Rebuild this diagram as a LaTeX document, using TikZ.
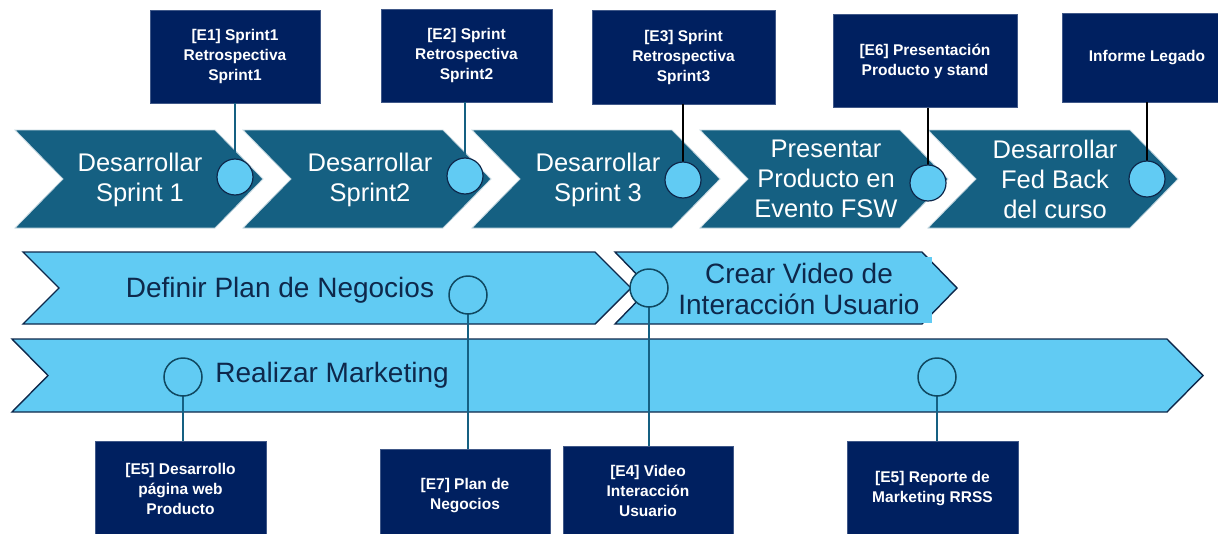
\documentclass[tikz,border=0pt]{standalone}
\usepackage{fontspec}
\setmainfont{Liberation Sans}
\definecolor{navy}{RGB}{0,32,96}
\definecolor{accteal}{RGB}{21,96,130}
\definecolor{lblue}{RGB}{97,203,243}
\definecolor{dnavy}{RGB}{14,40,75}
\newcommand\drawchev[6]{\path[#1] (#2,#4) -- (#3,#4) -- ({#3+#6},{(#4+#5)/2}) -- (#3,#5) -- (#2,#5) -- ({#2+#6},{(#4+#5)/2}) -- cycle;}
\tikzset{
  chevA/.style={fill=accteal, draw=white!75!accteal, line width=0.8pt},
  chevB/.style={fill=lblue, draw=dnavy, line width=1.4pt},
  box/.style={fill=navy, draw=navy!75!white, line width=0.6pt, text=white,
    font=\bfseries\fontsize{15.5}{20}\selectfont, align=center, inner sep=0pt},
  circA/.style={circle, minimum size=36pt, inner sep=0pt, fill=lblue, draw=dnavy, line width=1.2pt},
  circB/.style={circle, minimum size=38pt, inner sep=0pt, fill=lblue, draw=accteal!75!black, line width=1.5pt},
  lineT/.style={draw=accteal, line width=2pt},
  lineK/.style={draw=black, line width=2.5pt},
  tA/.style={text=white, align=center, inner sep=0pt, font=\fontsize{25.5}{30}\selectfont},
  tB/.style={text=dnavy, align=center, inner sep=0pt, font=\fontsize{28}{31}\selectfont},
}
\begin{document}
\begin{tikzpicture}[x=1pt,y=-1pt]
\useasboundingbox (0,0) rectangle (1218,533);
% top row chevrons
\drawchev{chevA}{15}{215}{130}{228}{48}
\drawchev{chevA}{243}{443}{130}{228}{48}
\drawchev{chevA}{472}{672}{130}{228}{48}
\drawchev{chevA}{700}{900}{130}{228}{48}
\drawchev{chevA}{928}{1130}{130}{228}{48}
% second and third row chevrons
\drawchev{chevB}{23}{595}{252}{324}{36}
\drawchev{chevB}{615}{922}{252}{324}{35}
\fill[lblue] (922,257) rectangle (932,323);
\drawchev{chevB}{12}{1167}{339}{412}{36}
% chevron texts
\node[tA] (t1) at (140,180) {Desarrollar\\Sprint 1};
\node[tA] (t2) at (370,180) {Desarrollar\\Sprint2};
\node[tA] (t3) at (598,180) {Desarrollar\\Sprint 3};
\node[tA] (t4) at (826,179) {Presentar\\Producto en\\Evento FSW};
\node[tA] (t5) at (1055,179) {Desarrollar\\Fed Back\\del curso};
\node[tB] (tb1) at (280,290) {Definir Plan de Negocios};
\node[tB] (tb2) at (799,289) {Crear Video de\\Interacción Usuario};
\node[tB] (tb3) at (332,375) {Realizar Marketing};
% boxes
\node[box, minimum width=170pt, minimum height=93pt] (e1) at (235,56.5) {[E1] Sprint1\\Retrospectiva\\Sprint1};
\node[box, minimum width=171pt, minimum height=93pt] (e2) at (466.5,55.5) {[E2] Sprint\\Retrospectiva\\Sprint2};
\node[box, minimum width=183pt, minimum height=94pt] (e3) at (683.5,57) {[E3] Sprint\\Retrospectiva\\Sprint3};
\node[box, minimum width=184pt, minimum height=93pt] (e6) at (925,61) {[E6] Presentación\\Producto y stand};
\node[box, minimum width=170pt, minimum height=89pt] (inf) at (1147,57.5) {Informe Legado};
\node[box, minimum width=171pt, minimum height=96pt] (b1) at (180.5,489) {[E5] Desarrollo\\página web\\Producto};
\node[box, minimum width=170pt, minimum height=94pt] (b2) at (465,496) {[E7] Plan de\\Negocios};
\node[box, minimum width=170pt, minimum height=90pt] (b3) at (648,491) {[E4] Video\\Interacción\\Usuario};
\node[box, minimum width=171pt, minimum height=96pt] (b4) at (932.5,489) {[E5] Reporte de\\Marketing RRSS};
% circle positions
\coordinate (pc1) at (235,177);
\coordinate (pc2) at (465,176);
\coordinate (pc3) at (683,180);
\coordinate (pc4) at (928,183);
\coordinate (pc5) at (1147,179);
\coordinate (pd1) at (468,295);
\coordinate (pd2) at (649,288);
\coordinate (pm1) at (183,377);
\coordinate (pm2) at (937,377);
% connectors
\draw[lineT] (pc1 |- e1.south) -- (pc1);
\draw[lineT] (pc2 |- e2.south) -- (pc2);
\draw[lineK] (pc3 |- e3.south) -- (pc3);
\draw[lineK] (pc4 |- e6.south) -- (pc4);
\draw[lineK] (pc5 |- inf.south) -- (pc5);
\draw[lineT] (pd1) -- (pd1 |- b2.north);
\draw[lineT] (pd2) -- (pd2 |- b3.north);
\draw[lineT] (pm1) -- (pm1 |- b1.north);
\draw[lineT] (pm2) -- (pm2 |- b4.north);
% circles
\node[circA] (c1) at (pc1) {};
\node[circA] (c2) at (pc2) {};
\node[circA] (c3) at (pc3) {};
\node[circA] (c4) at (pc4) {};
\node[circA] (c5) at (pc5) {};
\node[circB] (d1) at (pd1) {};
\node[circB] (d2) at (pd2) {};
\node[circB] (m1) at (pm1) {};
\node[circB] (m2) at (pm2) {};
\end{tikzpicture}
\end{document}
